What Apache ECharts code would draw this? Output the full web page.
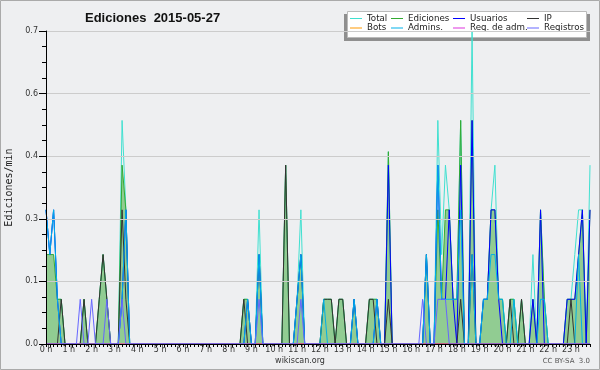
<!DOCTYPE html>
<html>
<head>
<meta charset="utf-8">
<script src="https://cdn.jsdelivr.net/npm/echarts@6/dist/echarts.min.js"></script>
<style>
  html, body { margin: 0; padding: 0; }
  #chart { width: 600px; height: 370px; }
</style>
</head>
<body>
<div id="chart"></div>
<script>
// one value every 10 minutes, edits per minute
var hourLabels = ['0 h', '1 h', '2 h', '3 h', '4 h', '5 h', '6 h', '7 h', '8 h', '9 h', '10 h', '11 h',
  '12 h', '13 h', '14 h', '15 h', '16 h', '17 h', '18 h', '19 h', '20 h', '21 h', '22 h', '23 h'];
var minuteLabels = ['00', '10', '20', '30', '40', '50'];
var yTicks = [0, 0.14, 0.28, 0.42, 0.56, 0.7];

var total = [
  .3,.2,.3,.1,.1,0,   0,0,0,0,.1,0,   0,0,.1,.2,.1,0,   0,0,.5,.3,0,0,
  0,0,0,0,0,0,        0,0,0,0,0,0,    0,0,0,0,0,0,      0,0,0,0,0,0,
  0,0,0,0,.1,.1,      0,0,.3,0,0,0,   0,0,0,.4,0,0,     .1,.3,0,0,0,0,
  0,.1,.1,.1,0,.1,    .1,0,0,.1,0,0,  0,.1,.1,.1,0,0,   .43,0,0,0,0,0,
  0,0,0,0,.2,0,       0,.5,.2,.4,.3,.1, .1,.5,0,0,.7,0, 0,.1,.1,.3,.4,.1,
  .1,0,.1,.1,0,.1,    0,0,.2,0,.3,.1, 0,0,0,0,0,.1,     .1,.2,.3,.3,0,.4
];
var ediciones = [
  .2,.2,.2,.1,.1,0,   0,0,0,0,.1,0,   0,0,.1,.2,.1,0,   0,0,.4,.3,0,0,
  0,0,0,0,0,0,        0,0,0,0,0,0,    0,0,0,0,0,0,      0,0,0,0,0,0,
  0,0,0,0,.1,.1,      0,0,.2,0,0,0,   0,0,0,.4,0,0,     .1,.2,0,0,0,0,
  0,.1,.1,.1,0,.1,    .1,0,0,.1,0,0,  0,.1,.1,.1,0,0,   .43,0,0,0,0,0,
  0,0,0,0,.2,0,       0,.3,.1,.3,.3,.1, .1,.5,0,0,.5,0, 0,.1,.1,.3,.3,.1,
  .1,0,.1,.1,0,.1,    0,0,.1,0,.3,.1, 0,0,0,0,0,.1,     .1,.1,.2,.3,0,.3
];
var usuarios = [
  .3,.2,.3,.1,0,0,    0,0,0,0,0,0,    0,0,0,0,0,0,      0,0,.1,.3,0,0,
  0,0,0,0,0,0,        0,0,0,0,0,0,    0,0,0,0,0,0,      0,0,0,0,0,0,
  0,0,0,0,0,.1,       0,0,.2,0,0,0,   0,0,0,0,0,0,      .1,.2,0,0,0,0,
  0,0,0,0,0,0,        0,0,0,.1,0,0,   0,0,0,.1,0,0,     .4,0,0,0,0,0,
  0,0,0,0,.2,0,       0,.4,.1,.1,.3,.1, 0,.4,0,0,.5,0,  0,.1,.1,.3,.3,.1,
  0,0,0,0,0,0,        0,0,.1,0,.3,0,  0,0,0,0,0,.1,     .1,.1,.2,.3,0,.3
];
var ip = [
  0,0,0,0,.1,0,       0,0,0,0,.1,0,   0,0,.1,.2,.1,0,   0,0,.3,.1,0,0,
  0,0,0,0,0,0,        0,0,0,0,0,0,    0,0,0,0,0,0,      0,0,0,0,0,0,
  0,0,0,0,.1,0,       0,0,0,0,0,0,    0,0,0,.4,0,0,     0,0,0,0,0,0,
  0,.1,.1,.1,0,.1,    .1,0,0,0,0,0,   0,.1,.1,0,0,0,    .1,0,0,0,0,0,
  0,0,0,0,0,0,        0,0,0,0,0,0,    0,.1,0,0,.2,0,    0,0,0,0,0,0,
  0,0,.1,0,0,.1,      0,0,0,0,0,0,    0,0,0,0,0,0,      .1,0,0,0,0,0
];
var bots = [
  0,0,0,0,0,0, 0,0,0,0,0,0, 0,0,0,0,0,0, 0,0,0,0,0,0,
  0,0,0,0,0,0, 0,0,0,0,0,0, 0,0,0,0,0,0, 0,0,0,0,0,0,
  0,0,0,0,0,0, 0,0,0,0,0,0, 0,0,0,0,0,0, 0,0,0,0,0,0,
  0,0,0,0,0,0, 0,0,0,0,0,0, 0,0,0,0,0,0, 0,0,0,0,0,0,
  0,0,0,0,0,0, 0,0,0,0,0,0, 0,0,0,0,0,0, 0,0,0,0,0,0,
  0,0,0,0,0,0, 0,0,0,0,0,0, 0,0,0,0,0,0, 0,0,0,0,0,0
];
var admins = [
  .3,.2,.3,.1,0,0,    0,0,0,0,0,0,    0,0,0,0,0,0,      0,0,.1,.3,0,0,
  0,0,0,0,0,0,        0,0,0,0,0,0,    0,0,0,0,0,0,      0,0,0,0,0,0,
  0,0,0,0,0,.1,       0,0,.2,0,0,0,   0,0,0,0,0,0,      .1,.2,0,0,0,0,
  0,.1,0,0,0,0,       0,0,0,.1,0,0,   0,0,0,.1,0,0,     0,0,0,0,0,0,
  0,0,0,0,.2,0,       0,.4,.1,.1,.1,.1, .1,.3,0,0,.2,0, 0,.1,.1,.2,.2,.1,
  .1,0,0,.1,0,0,      0,0,0,0,.1,.1,  0,0,0,0,0,0,      0,0,.2,0,0,0
];
var regAdm = [
  0,0,0,0,0,0, 0,0,0,0,0,0, 0,0,0,0,0,0, 0,0,0,0,0,0,
  0,0,0,0,0,0, 0,0,0,0,0,0, 0,0,0,0,0,0, 0,0,0,0,0,0,
  0,0,0,0,0,0, 0,0,0,0,0,0, 0,0,0,0,0,0, 0,0,0,0,0,0,
  0,0,0,0,0,0, 0,0,0,0,0,0, 0,0,0,0,0,0, 0,0,0,0,0,0,
  0,0,0,0,0,0, 0,0,0,0,0,0, 0,0,0,0,0,0, 0,0,0,0,0,0,
  0,0,0,0,0,0, 0,0,0,0,0,0, 0,0,0,0,0,0, 0,0,0,0,0,0
];
var registros = [
  0,0,0,0,0,0,        0,0,0,.1,0,0,   .1,0,0,0,.1,0,    0,0,.1,0,0,0,
  0,0,0,0,0,0,        0,0,0,0,0,0,    0,0,0,0,0,0,      0,0,0,0,0,0,
  0,0,0,0,0,0,        0,0,.1,0,0,0,   0,0,0,0,0,0,      0,.1,0,0,0,0,
  0,0,0,0,0,0,        0,0,0,0,0,0,    0,0,0,0,0,0,      0,0,0,0,0,0,
  0,0,0,.1,0,0,       0,.1,.1,.1,0,0, 0,0,0,0,0,0,      0,0,0,0,0,0,
  0,0,0,0,0,0,        0,0,0,0,0,0,    0,0,0,0,0,0,      0,0,0,0,0,0
];

var seriesNames = ['Total', 'Ediciones', 'Usuarios', 'IP', 'Bots', 'Admins.', 'Reg. de adm.', 'Registros'];
var seriesData = [total, ediciones, usuarios, ip, bots, admins, regAdm, registros];
var seriesColors = ['#40e0d0', '#33aa33', '#0000ff', '#333333', '#ff9900', '#00b0e8', '#dd33dd', '#6666ff'];

var categories = [];
hourLabels.forEach(function (h, hi) {
  minuteLabels.forEach(function (m) {
    categories.push(hi + ':' + m);
  });
});

// legend laid out like a 4 x 2 table
var legendCols = [350, 391, 453, 527];
var legendRows = [14, 23.5];
var legends = seriesNames.map(function (name, k) {
  return {
    data: [name],
    left: legendCols[k % 4],
    top: legendRows[Math.floor(k / 4)],
    padding: 0,
    icon: 'rect',
    itemWidth: 12,
    itemHeight: 1,
    selectedMode: false,
    textStyle: { fontFamily: 'DejaVu Sans', fontSize: 8.7, color: '#222' },
  };
});

var series = seriesNames.map(function (name, k) {
  var s = {
    name: name,
    type: 'line',
    data: seriesData[k],
    showSymbol: false,
    symbol: 'none',
    silent: true,
    color: seriesColors[k],
    lineStyle: { width: 1, color: seriesColors[k] },
  };
  if (name === 'Ediciones') {
    s.areaStyle = { color: '#33aa33', opacity: 0.5 };
  }
  return s;
});

var option = {
  animation: false,
  backgroundColor: '#eeeff1',
  title: {
    text: 'Ediciones  2015-05-27',
    left: 85,
    top: 12,
    padding: 0,
    textStyle: { fontFamily: 'Liberation Sans', fontWeight: 'bold', fontSize: 13, color: '#111' },
  },
  legend: legends,
  grid: { left: 46, right: 10, top: 31, bottom: 26, outerBoundsMode: 'none' },
  xAxis: {
    type: 'category',
    data: categories,
    boundaryGap: false,
    z: 10,
    axisLine: { lineStyle: { color: '#000', width: 1 } },
    axisTick: { interval: 0, length: 3, lineStyle: { color: '#000' } },
    axisLabel: {
      interval: 5,
      margin: 2,
      fontFamily: 'DejaVu Sans',
      fontSize: 8,
      color: '#333',
      formatter: function (v) {
        return hourLabels[+v.split(':')[0]];
      },
    },
    splitLine: { show: false },
  },
  yAxis: {
    type: 'value',
    min: yTicks[0],
    max: yTicks[yTicks.length - 1],
    interval: yTicks[1],
    name: 'Ediciones/min',
    nameLocation: 'middle',
    nameGap: 32,
    nameTextStyle: { fontFamily: 'DejaVu Sans Mono', fontSize: 10, color: '#222' },
    z: 10,
    axisLine: { show: true, lineStyle: { color: '#000', width: 1 } },
    axisTick: { show: true, length: 7, lineStyle: { color: '#000' } },
    minorTick: { show: true, splitNumber: 4, length: 4, lineStyle: { color: '#000' } },
    axisLabel: {
      margin: 8,
      fontFamily: 'DejaVu Sans',
      fontSize: 8,
      color: '#333',
      formatter: function (v) {
        return v.toFixed(1);
      },
    },
    splitLine: { lineStyle: { color: '#cccccc', width: 1 } },
  },
  graphic: [
    {
      type: 'rect',
      z: 100,
      silent: true,
      shape: { x: 0.5, y: 0.5, width: 599, height: 369 },
      style: { fill: 'none', stroke: '#aaaaaa', lineWidth: 1 },
    },
    {
      type: 'rect',
      z: 3,
      silent: true,
      shape: { x: 344, y: 14, width: 246, height: 27 },
      style: { fill: '#8f8f8f' },
    },
    {
      type: 'rect',
      z: 3,
      silent: true,
      shape: { x: 347.5, y: 11.5, width: 239, height: 26 },
      style: { fill: '#ffffff', stroke: '#bbbbbb', lineWidth: 1 },
    },
    {
      type: 'text',
      silent: true,
      left: 'center',
      top: 357,
      style: { text: 'wikiscan.org', fontFamily: 'DejaVu Sans', fontSize: 8, fill: '#333' },
    },
    {
      type: 'text',
      silent: true,
      right: 10,
      top: 358,
      style: { text: 'CC BY-SA  3.0', fontFamily: 'DejaVu Sans', fontSize: 7, fill: '#555' },
    },
  ],
  series: series,
};

var myChart = echarts.init(document.getElementById('chart'));
myChart.setOption(option);
</script>
</body>
</html>
